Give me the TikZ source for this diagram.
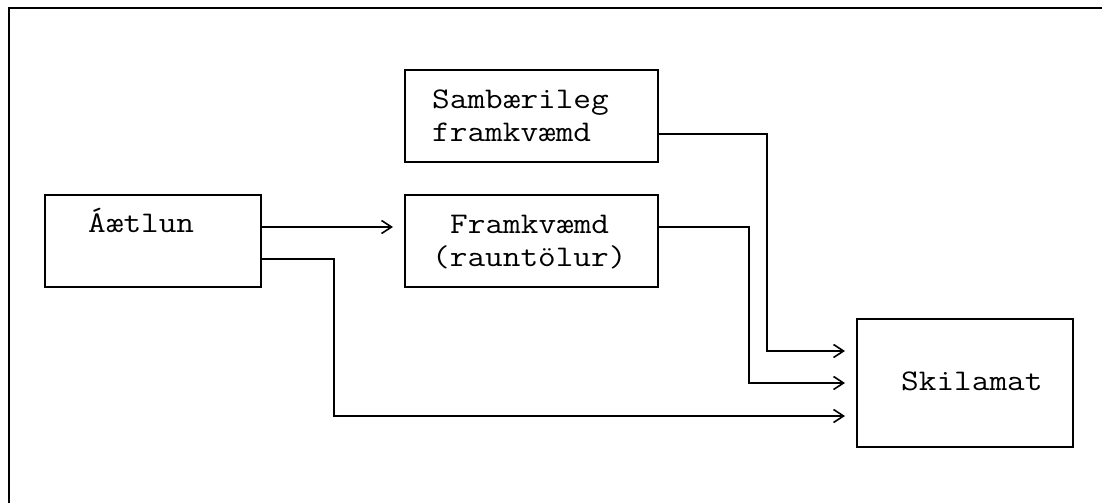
\documentclass[tikz,border=0pt]{standalone}
\usepackage{fontspec}
\newfontfamily\cmono[FakeStretch=1.143]{Latin Modern Mono}
\usetikzlibrary{arrows.meta}
\begin{document}
\begin{tikzpicture}[x=1pt,y=-1pt,
  every node/.style={font=\cmono\fontsize{30}{33}\selectfont},
  boxnode/.style={draw,line width=2pt,rectangle,inner sep=0pt,minimum width=#1},
  txt/.style={inner sep=0pt,anchor=base west},
  conn/.style={line width=2pt,-{Straight Barb[length=10pt,width=13pt,line width=1.6pt]},shorten >=11pt},
  framestyle/.style={line width=2pt}]
\useasboundingbox (0,0) rectangle (1102,503);
\draw[framestyle] (9,503) -- (9,8) -- (1102,8);
\node[boxnode=216pt,minimum height=92pt] (aet) at (153,241) {};
\node[boxnode=253pt,minimum height=92pt] (sam) at (531.5,116) {};
\node[boxnode=253pt,minimum height=92pt] (fram) at (531.5,241) {};
\node[boxnode=216pt,minimum height=128pt] (skil) at (965,383) {};
\node[txt] (taet) at (88,232) {Áætlun};
\node[txt] (tsam1) at (432,108) {Sambærileg};
\node[txt] (tsam2) at (432,141) {framkvæmd};
\node[txt] (tfram1) at (450,233) {Framkvæmd};
\node[txt] (tfram2) at (432,266) {(rauntölur)};
\node[txt] (tskil) at (901,390) {Skilamat};
\draw[conn] ([yshift=14pt]aet.east) -- ([yshift=14pt]fram.west);
\draw[conn] ([yshift=-18pt]aet.east) -- ++(72,0) |- ([yshift=-33pt]skil.west);
\draw[conn] ([yshift=-18pt]sam.east) -- ++(108,0) |- ([yshift=32pt]skil.west);
\draw[conn] ([yshift=14pt]fram.east) -- ++(90,0) |- (skil.west);
\end{tikzpicture}
\end{document}
